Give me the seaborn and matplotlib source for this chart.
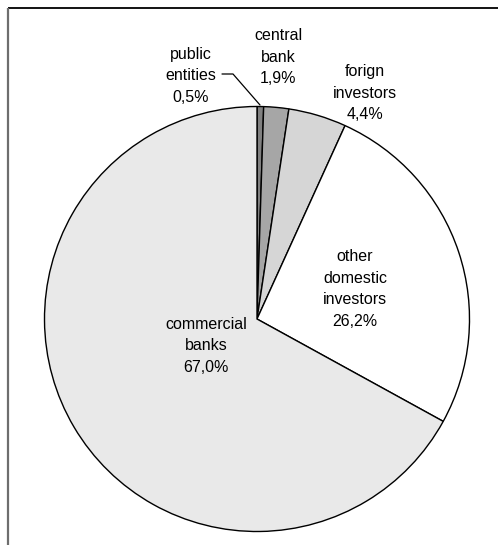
import matplotlib
matplotlib.use("Agg")
import matplotlib.pyplot as plt
import seaborn as sns

# Holders of government debt (share of total, %)
holders = ["public\nentities", "central\nbank", "forign\ninvestors",
           "other\ndomestic\ninvestors", "commercial\nbanks"]
shares = [0.5, 1.9, 4.4, 26.2, 67.0]
colors = ["#808080", "#a6a6a6", "#d6d6d6", "#ffffff", "#e9e9e9"]

sns.set_theme(style="white")
plt.rcParams["font.family"] = ["Liberation Sans", "DejaVu Sans"]

W, H = 498, 545
fig = plt.figure(figsize=(W / 100, H / 100), dpi=100)
ax = fig.add_axes([0, 0, 1, 1])

cx, cy, r = 257, H - 319, 212.5
ax.pie(shares, colors=colors, startangle=90, counterclock=False,
       center=(cx, cy), radius=r, frame=True,
       wedgeprops=dict(edgecolor="black", linewidth=1.0))
ax.set_xlim(0, W)
ax.set_ylim(0, H)
ax.set_aspect("equal")
ax.axis("off")

# label anchor points (pixel coordinates, measured from the top)
label_xy = [(191, 76), (278, 57), (365, 93), (355, 289), (206, 346)]
for name, val, (x, y) in zip(holders, shares, label_xy):
    txt = f"{name}\n{val:.1f}%".replace(".", ",")
    ax.text(x, H - y, txt, ha="center", va="center", fontsize=11.5,
            color="black", linespacing=1.55)

# leader line for the smallest slice
ax.plot([222, 233, 260], [H - 74, H - 74, H - 105], color="black", lw=0.9)

# outer frame: top and left rules
ax.plot([8, W], [H - 8, H - 8], color="black", lw=1.3, solid_capstyle="butt")
ax.plot([8, 8], [H - 8, 0], color="#6e6e6e", lw=1.6, solid_capstyle="butt")

fig.savefig("out.png", dpi=100)
